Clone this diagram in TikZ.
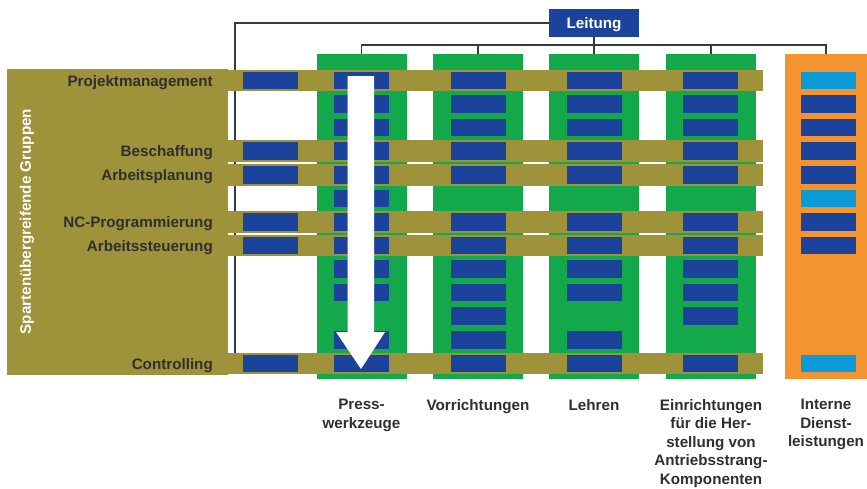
\documentclass[tikz,border=0pt]{standalone}
\usepackage{fontspec}
\setsansfont{Liberation Sans}
\usepackage{tikz}
\usetikzlibrary{positioning}
\definecolor{gOlive}{HTML}{9E923A}
\definecolor{sGreen}{HTML}{13A84A}
\definecolor{uBlue}{HTML}{1C439B}
\definecolor{lBlue}{HTML}{0A9AD8}
\definecolor{dOrange}{HTML}{F49431}
\definecolor{inkD}{HTML}{2F2F2F}
\definecolor{lineD}{HTML}{3A3A3A}
\tikzset{
  orgfont/.style={font=\sffamily\bfseries\fontsize{15.2}{18.4}\selectfont},
  leitbox/.style={orgfont, fill=uBlue, text=white, minimum width=90pt,
                  minimum height=28pt, inner sep=0pt, text depth=0pt},
  grpblock/.style={fill=gOlive, minimum width=221pt, minimum height=306pt,
                   inner sep=0pt},
  bandbar/.style={fill=gOlive, minimum width=535pt, minimum height=21.5pt,
                  inner sep=0pt},
  spartecol/.style={fill=sGreen, minimum width=90pt, minimum height=325pt,
                    inner sep=0pt},
  dienstcol/.style={spartecol, fill=dOrange, minimum width=82pt},
  unitbox/.style={fill=uBlue, minimum width=55pt, minimum height=17.5pt,
                  inner sep=0pt},
  servbox/.style={unitbox, fill=lBlue},
  grplab/.style={orgfont, text=inkD, anchor=base east, inner sep=0pt},
  collab/.style={orgfont, text=inkD, align=center, inner sep=0pt},
  orgline/.style={line width=1.2pt, color=lineD},
}
\begin{document}
\begin{tikzpicture}[x=1pt, y=-1pt]
  \useasboundingbox (0,0) rectangle (867,488);
  % head
  \node[leitbox] (leitung) at (594,23) {Leitung};
  % divisions
  \node[spartecol] (pw) at (361.5,216.5) {};
  \node[spartecol] (vr) at (478,216.5) {};
  \node[spartecol] (le) at (594,216.5) {};
  \node[spartecol] (ei) at (711,216.5) {};
  \node[dienstcol] (id) at (826,216.5) {};
  % org lines
  \coordinate (bus) at (594,45);
  \coordinate (grpjoin) at (235,364);
  \draw[orgline] (leitung.west) -| (grpjoin);
  \draw[orgline] (leitung.south) -- (bus);
  \draw[orgline] (pw.north) |- (bus) -| (id.north);
  \draw[orgline] (vr.north) -- (vr.north |- bus);
  \draw[orgline] (le.north) -- (le.north |- bus);
  \draw[orgline] (ei.north) -- (ei.north |- bus);
  % cross-divisional groups
  \node[grpblock] (grp) at (117.5,222) {};
  \node[orgfont, text=white, rotate=90] (grptitle) at (27,221.5)
    {Spartenübergreifende Gruppen};
  \node[bandbar] (pm) at (495.5,80.5) {};
  \node[bandbar] (bs) at (495.5,151) {};
  \node[bandbar] (ap) at (495.5,175) {};
  \node[bandbar] (nc) at (495.5,222) {};
  \node[bandbar] (as) at (495.5,245.5) {};
  \node[bandbar] (co) at (495.5,363.5) {};
  \node[grplab] (pmlab) at (213,86) {Projektmanagement};
  \node[grplab] (bslab) at (213,156.5) {Beschaffung};
  \node[grplab] (aplab) at (213,180.5) {Arbeitsplanung};
  \node[grplab] (nclab) at (213,227.5) {NC-Programmierung};
  \node[grplab] (aslab) at (213,251) {Arbeitssteuerung};
  \node[grplab] (colab) at (213,369) {Controlling};
  % group units
  \node[unitbox] (g0) at (270.5,80.5) {};
  \node[unitbox] (g3) at (270.5,151) {};
  \node[unitbox] (g4) at (270.5,175) {};
  \node[unitbox] (g6) at (270.5,222) {};
  \node[unitbox] (g7) at (270.5,245.5) {};
  \node[unitbox] (g12) at (270.5,363.5) {};
  % Presswerkzeuge
  \node[unitbox] (pw0) at (361,80.5) {};
  \node[unitbox] (pw1) at (361,104) {};
  \node[unitbox] (pw2) at (361,127.5) {};
  \node[unitbox] (pw3) at (361,151) {};
  \node[unitbox] (pw4) at (361,175) {};
  \node[unitbox] (pw5) at (361,198.5) {};
  \node[unitbox] (pw6) at (361,222) {};
  \node[unitbox] (pw7) at (361,245.5) {};
  \node[unitbox] (pw8) at (361,269) {};
  \node[unitbox] (pw9) at (361,292.5) {};
  \node[unitbox] (pw11) at (361,340) {};
  \node[unitbox] (pw12) at (361,363.5) {};
  % Vorrichtungen
  \node[unitbox] (vr0) at (478,80.5) {};
  \node[unitbox] (vr1) at (478,104) {};
  \node[unitbox] (vr2) at (478,127.5) {};
  \node[unitbox] (vr3) at (478,151) {};
  \node[unitbox] (vr4) at (478,175) {};
  \node[unitbox] (vr6) at (478,222) {};
  \node[unitbox] (vr7) at (478,245.5) {};
  \node[unitbox] (vr8) at (478,269) {};
  \node[unitbox] (vr9) at (478,292.5) {};
  \node[unitbox] (vr10) at (478,316) {};
  \node[unitbox] (vr11) at (478,340) {};
  \node[unitbox] (vr12) at (478,363.5) {};
  % Lehren
  \node[unitbox] (le0) at (594.5,80.5) {};
  \node[unitbox] (le1) at (594.5,104) {};
  \node[unitbox] (le2) at (594.5,127.5) {};
  \node[unitbox] (le3) at (594.5,151) {};
  \node[unitbox] (le4) at (594.5,175) {};
  \node[unitbox] (le6) at (594.5,222) {};
  \node[unitbox] (le7) at (594.5,245.5) {};
  \node[unitbox] (le8) at (594.5,269) {};
  \node[unitbox] (le9) at (594.5,292.5) {};
  \node[unitbox] (le11) at (594.5,340) {};
  \node[unitbox] (le12) at (594.5,363.5) {};
  % Einrichtungen
  \node[unitbox] (ei0) at (710,80.5) {};
  \node[unitbox] (ei1) at (710,104) {};
  \node[unitbox] (ei2) at (710,127.5) {};
  \node[unitbox] (ei3) at (710,151) {};
  \node[unitbox] (ei4) at (710,175) {};
  \node[unitbox] (ei6) at (710,222) {};
  \node[unitbox] (ei7) at (710,245.5) {};
  \node[unitbox] (ei8) at (710,269) {};
  \node[unitbox] (ei9) at (710,292.5) {};
  \node[unitbox] (ei10) at (710,316) {};
  \node[unitbox] (ei12) at (710,363.5) {};
  % Interne Dienstleistungen
  \node[servbox] (id0) at (828,80.5) {};
  \node[unitbox] (id1) at (828,104) {};
  \node[unitbox] (id2) at (828,127.5) {};
  \node[unitbox] (id3) at (828,151) {};
  \node[unitbox] (id4) at (828,175) {};
  \node[servbox] (id5) at (828,198.5) {};
  \node[unitbox] (id6) at (828,222) {};
  \node[unitbox] (id7) at (828,245.5) {};
  \node[servbox] (id12) at (828,363.5) {};
  % process arrow
  \fill[white] (347.5,76) -- (374,76) -- (374,332) -- (385,332)
    -- (361,369) -- (336,332) -- (347.5,332) -- cycle;
  % column labels
  \node[collab, below=20pt of pw] (pwlab) {Press-\\werkzeuge};
  \node[collab, below=20pt of vr] (vrlab) {Vorrichtungen};
  \node[collab, below=20pt of le] (lelab) {Lehren};
  \node[collab, below=20pt of ei] (eilab)
    {Einrichtungen\\für die Her-\\stellung von\\Antriebsstrang-\\Komponenten};
  \node[collab, below=20pt of id] (idlab) {Interne\\Dienst-\\leistungen};
\end{tikzpicture}
\end{document}
